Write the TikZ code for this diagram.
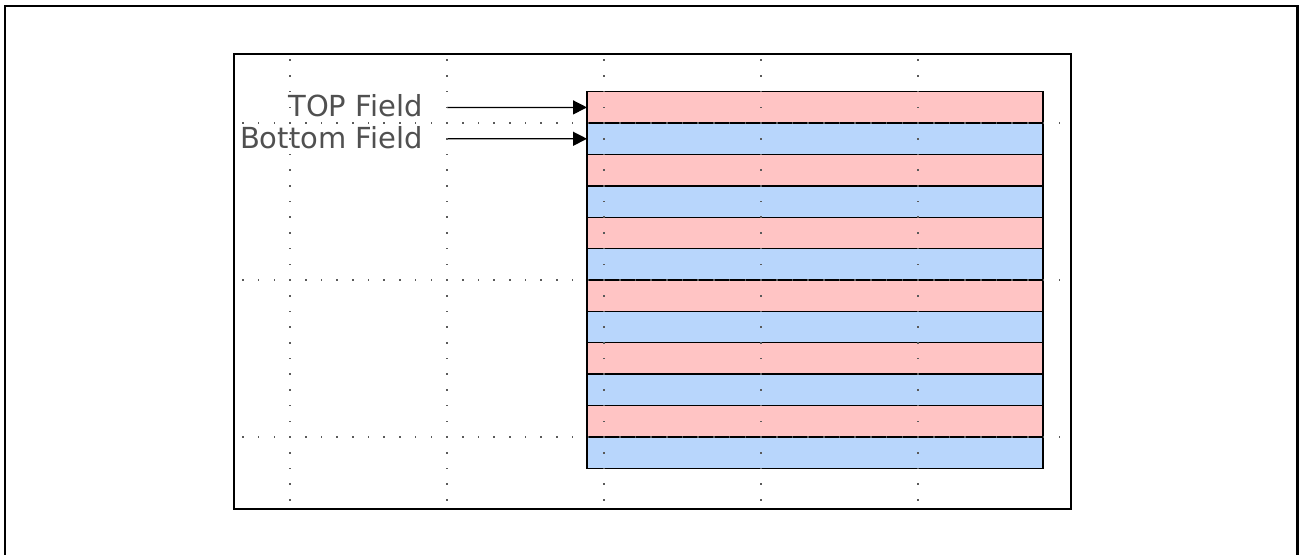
\documentclass[tikz,border=0pt]{standalone}
\usepackage{fontspec}
\setmainfont{DejaVu Sans}
\usetikzlibrary{arrows.meta}
\definecolor{pinkc}{RGB}{255,196,196}
\definecolor{bluec}{RGB}{184,214,252}
\definecolor{dotc}{RGB}{90,90,90}
\definecolor{labc}{RGB}{80,80,80}
\tikzset{
  frame/.style={draw=black, line width=1.3pt},
  stripe/.style={draw=black, line width=0.65pt, inner sep=0pt, outer sep=0pt,
    minimum width=228pt, minimum height=15.69pt},
  pinkstripe/.style={stripe, fill=pinkc},
  bluestripe/.style={stripe, fill=bluec},
  lab/.style={font=\fontsize{14.5pt}{17pt}\selectfont, text=labc, inner sep=0pt, anchor=base east},
  pointer/.style={draw=black, line width=0.65pt, -{Triangle[length=7pt,width=7pt]}},
  griddot/.style={fill=dotc}
}
\begin{document}
\begin{tikzpicture}[x=0.5pt,y=-0.5pt]
\useasboundingbox (0,0) rectangle (1300,554);
% outer border (bottom edge outside the picture)
\draw[frame] (5,556) -- (5,6) -- (1297.5,6) -- (1297.5,556);
% inner frame
\draw[frame] (234,54) rectangle (1071,509);
% stripes
\foreach \i in {0,...,11}{
  \pgfmathsetmacro{\yc}{91.7+31.38*\i+15.69}
  \ifodd\i
    \node[bluestripe] (s\i) at (815,\yc) {};
  \else
    \node[pinkstripe] (s\i) at (815,\yc) {};
  \fi
}
% labels and pointers
\node[lab] (ltop) at (423,116.7) {TOP Field};
\node[lab] (lbot) at (423,148.5) {Bottom Field};
\coordinate (p0) at (447,107.4);
\coordinate (p1) at (447,138.8);
\draw[pointer] (p0) -- (s0.west);
\draw[pointer] (p1) -- (s1.west);
% dotted grid
\foreach \y in {123.08,279.98,436.88}{
  \foreach \k in {-3,...,49}{
    \fill[griddot] ({290+15.7*\k-0.8},{\y-0.8}) rectangle ++(1.6,1.6);
  }
}
\foreach \x in {290,447,604,761,918}{
  \foreach \k in {-4,...,24}{
    \fill[griddot] ({\x-0.8},{123.08+15.7*\k-0.8}) rectangle ++(1.6,1.6);
  }
}
\end{tikzpicture}
\end{document}
